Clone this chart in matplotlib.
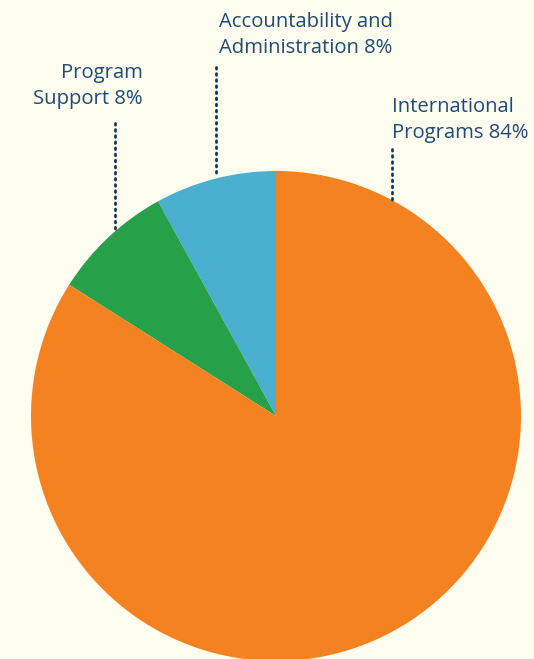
import matplotlib
matplotlib.use("Agg")
import matplotlib.pyplot as plt

# ---- data ----
categories = ["Accountability and\nAdministration", "Program\nSupport", "International\nPrograms"]
shares = [8, 8, 84]
colors = ["#4BAFD0", "#27A04A", "#F58220"]

bg = "#FFFDF0"
ink = "#1F4A72"

W, H = 534, 659
fig = plt.figure(figsize=(W / 100, H / 100), dpi=100, facecolor=bg)
ax = fig.add_axes([0, 0, 1, 1])
ax.set_facecolor(bg)

# pie, counterclockwise from the top: blue, green, orange
ax.pie(shares, colors=colors, startangle=90, counterclock=True,
       center=(276, H - 416), radius=245, frame=True,
       wedgeprops=dict(linewidth=0))
ax.set_xlim(0, W)
ax.set_ylim(0, H)
ax.set_aspect("equal")
ax.axis("off")

# labels (pixel positions, y measured from top)
labels = [f"{c} {s}%" for c, s in zip(categories, shares)]
label_pos = [(219, 12, "left"), (143, 63, "right"), (392, 97, "left")]
leader = [(216, 67, 177), (115, 123, 233), (392, 149, 203)]

for txt, (x, y, ha) in zip(labels, label_pos):
    ax.text(x, H - y, txt, ha=ha, va="top", fontsize=14.6, color=ink,
            family="Open Sans", linespacing=1.38)

for x, y0, y1 in leader:
    ax.plot([x, x], [H - y0, H - y1], color="#12355B", lw=2,
            linestyle=(0, (0.6, 1.6)), solid_capstyle="round",
            dash_capstyle="round")

fig.savefig("out.png", dpi=100, facecolor=bg)
